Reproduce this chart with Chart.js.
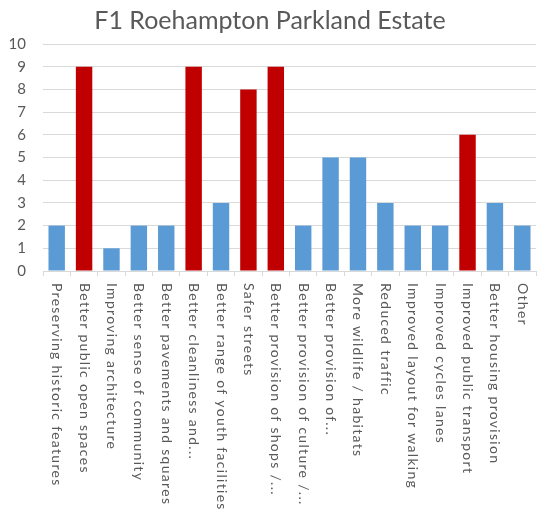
<!DOCTYPE html>
<html>
<head>
<meta charset="utf-8">
<script src="https://cdn.jsdelivr.net/npm/chart.js@4"></script>
<style>
html,body{margin:0;padding:0;background:#fff;}
#c{display:block;}
</style>
</head>
<body>
<canvas id="c" width="538" height="512"></canvas>
<script>
const title = "F1 Roehampton Parkland Estate";
const categories = [
  "Preserving historic features",
  "Better public open spaces",
  "Improving architecture",
  "Better sense of community",
  "Better pavements and squares",
  "Better cleanliness and...",
  "Better range of youth facilities",
  "Safer streets",
  "Better provision of shops /...",
  "Better provision of culture /...",
  "Better provision of...",
  "More wildlife / habitats",
  "Reduced traffic",
  "Improved layout for walking",
  "Improved cycles lanes",
  "Improved public transport",
  "Better housing provision",
  "Other"
];
const values = [2, 9, 1, 2, 2, 9, 3, 8, 9, 2, 5, 5, 3, 2, 2, 6, 3, 2];
const highlighted = [false, true, false, false, false, true, false, true, true, false, false, false, false, false, false, true, false, false];
const yTicks = [0,1,2,3,4,5,6,7,8,9,10];

const BLUE = "#5b9bd5";
const RED = "#c00000";
const TEXT = "#595959";
const GRID = "#d9d9d9";
const FONT = "Lato, 'Open Sans', sans-serif";

const rotatedLabels = {
  id: "rotatedLabels",
  afterDraw(chart) {
    const xs = chart.scales.x;
    const ctx = chart.ctx;
    ctx.save();
    ctx.fillStyle = TEXT;
    ctx.font = "14px " + FONT;
    try { ctx.letterSpacing = "1.3px"; } catch (e) {}
    ctx.textAlign = "left";
    ctx.textBaseline = "middle";
    categories.forEach((lab, i) => {
      const x = xs.getPixelForValue(i);
      const y = chart.chartArea.bottom + 12;
      ctx.save();
      ctx.translate(x, y);
      ctx.rotate(Math.PI / 2);
      ctx.fillText(lab, 0, 0);
      ctx.restore();
    });
    ctx.restore();
  }
};

new Chart(document.getElementById("c"), {
  type: "bar",
  data: {
    labels: categories,
    datasets: [{
      data: values,
      backgroundColor: highlighted.map(h => h ? RED : BLUE),
      barPercentage: 0.6,
      categoryPercentage: 1.0
    }]
  },
  options: {
    responsive: false,
    animation: false,
    devicePixelRatio: 1,
    layout: { padding: { left: 4, right: 2, top: 0, bottom: 0 } },
    plugins: {
      legend: { display: false },
      tooltip: { enabled: false },
      title: {
        display: true,
        text: title,
        color: TEXT,
        font: { family: FONT, size: 25, weight: "normal" },
        padding: { top: 6, bottom: 8 }
      }
    },
    scales: {
      y: {
        min: 0,
        max: 10,
        afterBuildTicks(scale) { scale.ticks = yTicks.map(v => ({ value: v })); },
        afterFit(scale) { scale.width = 39; },
        grid: { color: GRID, drawTicks: false },
        border: { display: false },
        ticks: {
          color: TEXT,
          font: { family: FONT, size: 15 },
          padding: 17
        }
      },
      x: {
        afterFit(scale) { scale.height = 241; },
        grid: { offset: true, drawOnChartArea: false, color: GRID, tickLength: 5 },
        border: { display: true, color: GRID },
        ticks: { display: false }
      }
    }
  },
  plugins: [rotatedLabels]
});
</script>
</body>
</html>
